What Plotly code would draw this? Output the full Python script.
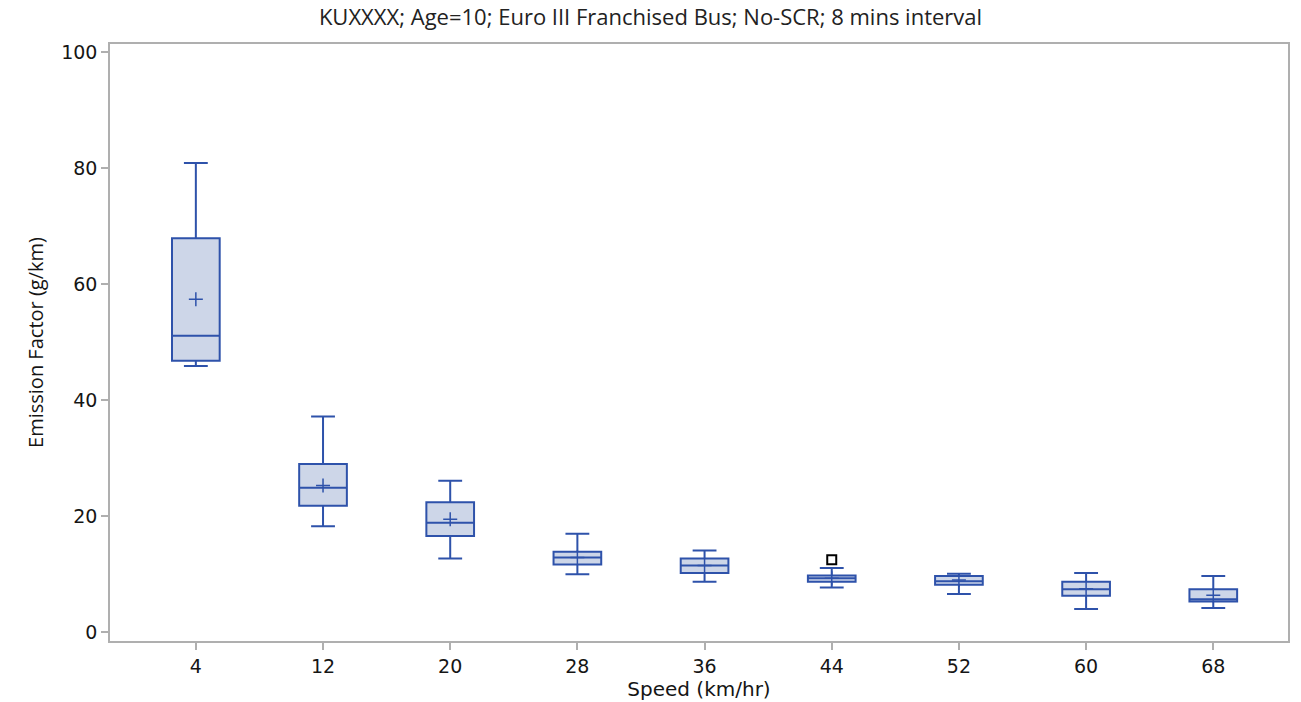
import plotly.graph_objects as go

speeds = [4, 12, 20, 28, 36, 44, 52, 60, 68]
upper = [80.9, 37.2, 26.1, 17.0, 14.1, 11.1, 10.1, 10.2, 9.7]
q3 = [67.9, 29.0, 22.4, 13.9, 12.7, 9.8, 9.7, 8.7, 7.4]
median = [51.1, 24.9, 18.9, 12.9, 11.5, 9.3, 8.8, 7.4, 5.7]
q1 = [46.8, 21.8, 16.6, 11.7, 10.2, 8.7, 8.2, 6.3, 5.3]
lower = [45.9, 18.3, 12.7, 10.0, 8.7, 7.7, 6.6, 4.0, 4.2]
means = [57.4, 25.3, 19.5, 12.9, 11.5, 9.3, 9.0, 7.5, 6.4]
outlier_x = [44]
outlier_y = [12.5]
tick_vals = [0, 20, 40, 60, 80, 100]

LINE = "rgb(46,82,170)"
FILL = "rgb(205,214,232)"
GRID = "rgb(175,175,175)"
TICKFONT = dict(family="DejaVu Sans", size=19, color="#151515")

fig = go.Figure()
fig.add_trace(go.Box(
    x=speeds, q1=q1, median=median, q3=q3,
    lowerfence=lower, upperfence=upper,
    width=3, whiskerwidth=0.5,
    line=dict(color=LINE, width=2), fillcolor=FILL,
    boxpoints=False, showlegend=False, hoverinfo="skip",
))
fig.add_trace(go.Scatter(
    x=speeds, y=means, mode="markers",
    marker=dict(symbol="cross-thin-open", size=10, color=LINE,
                line=dict(color=LINE, width=1.5)),
    showlegend=False,
))
fig.add_trace(go.Scatter(
    x=outlier_x, y=outlier_y, mode="markers",
    marker=dict(symbol="square-open", size=9, color="black",
                line=dict(color="black", width=2)),
    showlegend=False,
))

fig.update_layout(
    width=1301, height=702,
    margin=dict(l=110, r=13, t=44, b=61),
    paper_bgcolor="white", plot_bgcolor="white",
    title=dict(text="KUXXXX; Age=10; Euro III Franchised Bus; No-SCR; 8 mins interval",
               x=0.5, xanchor="center", y=0.975, yanchor="middle",
               font=dict(family="Open Sans", size=22, color="#222")),
    xaxis=dict(
        range=[-1.4, 72.7], tickmode="array", tickvals=speeds,
        ticktext=[str(s) for s in speeds],
        showline=True, linecolor=GRID, linewidth=1.5, mirror=True,
        ticks="outside", ticklen=7, tickcolor=GRID, tickwidth=1.5,
        showgrid=False, zeroline=False,
        tickfont=TICKFONT,
        title=dict(text="Speed (km/hr)", standoff=0,
                   font=dict(family="DejaVu Sans", size=20, color="#151515")),
    ),
    yaxis=dict(
        range=[-1.5, 101.4], tickmode="array", tickvals=tick_vals,
        showline=True, linecolor=GRID, linewidth=1.5, mirror=True,
        ticks="outside", ticklen=7, tickcolor=GRID, tickwidth=1.5,
        showgrid=False, zeroline=False,
        tickfont=TICKFONT,
        title=dict(text="Emission Factor (g/km)", standoff=12,
                   font=dict(family="Open Sans", size=20, color="#151515")),
    ),
)

fig.write_html("out.html")
